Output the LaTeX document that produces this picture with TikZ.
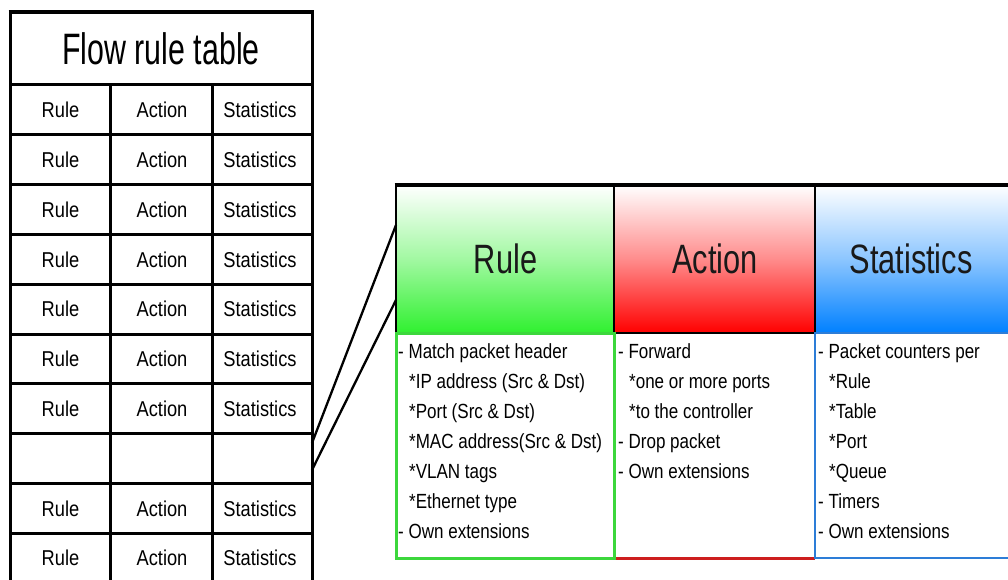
\documentclass[tikz,border=0pt]{standalone}
\usepackage{fontspec}
\setmainfont{Liberation Sans}
\newfontfamily\titlefont[FakeStretch=0.69]{Liberation Sans}
\newfontfamily\headfont[FakeStretch=0.75]{Liberation Sans}
\newfontfamily\cellfont[FakeStretch=0.85]{Liberation Sans}
\newfontfamily\bodyfont[FakeStretch=0.83]{Liberation Sans}

\definecolor{hgreen}{RGB}{48,240,48}
\definecolor{hred}{RGB}{255,0,0}
\definecolor{hblue}{RGB}{0,128,255}
\definecolor{bgreen}{RGB}{60,215,60}
\definecolor{bred}{RGB}{205,30,30}
\definecolor{bblue}{RGB}{45,125,215}

\newcommand{\ind}{\hspace*{11pt}}

\tikzset{
  tabline/.style={draw=black, line width=3pt},
  celltext/.style={font=\cellfont\fontsize{21.5}{25}\selectfont, inner sep=0pt},
  titletext/.style={font=\titlefont\fontsize{44}{50}\selectfont, inner sep=0pt},
  headtext/.style={font=\headfont\fontsize{41}{46}\selectfont, inner sep=0pt, text=black!90},
  bodytext/.style={font=\bodyfont\fontsize{20.5}{30}\selectfont, inner sep=0pt,
    align=left, anchor=north west},
  zoomline/.style={draw=black, line width=2.3pt},
  headline/.style={draw=black, line width=2.6pt}
}

\begin{document}
\begin{tikzpicture}[x=1pt, y=-1pt]
\clip (0,0) rectangle (1008,580);
\fill[white] (0,0) rectangle (1008,580);

% ---------- flow rule table ----------
\node[titletext] (title) at (161,49) {Flow rule table};
\foreach \i in {0,...,9}
  \draw[tabline] (10,{85+49.8*\i}) -- (312,{85+49.8*\i});
\draw[tabline] (110,85) -- (110,583);
\draw[tabline] (212,85) -- (212,583);
\draw[tabline] (10,12) rectangle (312,583);
\draw[draw=black, line width=4pt] (8.5,12) -- (313.5,12);

\foreach \i in {0,1,2,3,4,5,6,8,9} {
  \node[celltext] (rule\i)  at (60.5,{110+49.8*\i}) {Rule};
  \node[celltext] (act\i)   at (162,{110+49.8*\i}) {Action};
  \node[celltext] (stat\i)  at (260,{110+49.8*\i}) {Statistics};
}

% end points of the zoom lines on the empty row
\coordinate (tabA) at (312,443);
\coordinate (tabB) at (312,470);

% ---------- enlarged entry ----------
% header gradients
\shade[top color=white, bottom color=hgreen, middle color=hgreen!45!white]
  (396,185) rectangle (614,333);
\shade[top color=white, bottom color=hred, middle color=hred!45!white]
  (614,185) rectangle (815,333);
\shade[top color=white, bottom color=hblue, middle color=hblue!45!white]
  (815,185) rectangle (1012,333);

\node[headtext] (hrule) at (505.5,259) {Rule};
\node[headtext] (hact)  at (715,259) {Action};
\node[headtext] (hstat) at (911,259) {Statistics};

% header frame
\draw[headline] (614,185) -- (614,333);
\draw[headline] (815,185) -- (815,333);
\draw[headline] (614,333) -- (815,333);
\draw[headline] (396,333) -- (396,185);
\draw[draw=black, line width=4pt] (394.7,185) -- (1012,185);

% body frames
\draw[draw=bred, line width=3pt] (614,558) -- (815,558);
\draw[draw=bgreen, line width=3pt] (396,333) rectangle (614,558);
\draw[draw=bblue, line width=2.6pt] (815,333) rectangle (1012,558);

\coordinate (boxA) at (396,225);
\coordinate (boxB) at (396,300);

% body texts
\node[bodytext] (ruletext) at (398,343.5)
  {- Match packet header\\
   \ind*IP address (Src \& Dst)\\
   \ind*Port (Src \& Dst)\\
   \ind*MAC address(Src \& Dst)\\
   \ind*VLAN tags\\
   \ind*Ethernet type\\
   - Own extensions};
\node[bodytext] (acttext) at (618,343.5)
  {- Forward\\
   \ind*one or more ports\\
   \ind*to the controller\\
   - Drop packet\\
   - Own extensions};
\node[bodytext] (stattext) at (818,343.5)
  {- Packet counters per\\
   \ind*Rule\\
   \ind*Table\\
   \ind*Port\\
   \ind*Queue\\
   - Timers\\
   - Own extensions};

% zoom lines from the table row to the enlarged entry
\draw[zoomline] (tabA) -- (boxA);
\draw[zoomline] (tabB) -- (boxB);
\end{tikzpicture}
\end{document}
